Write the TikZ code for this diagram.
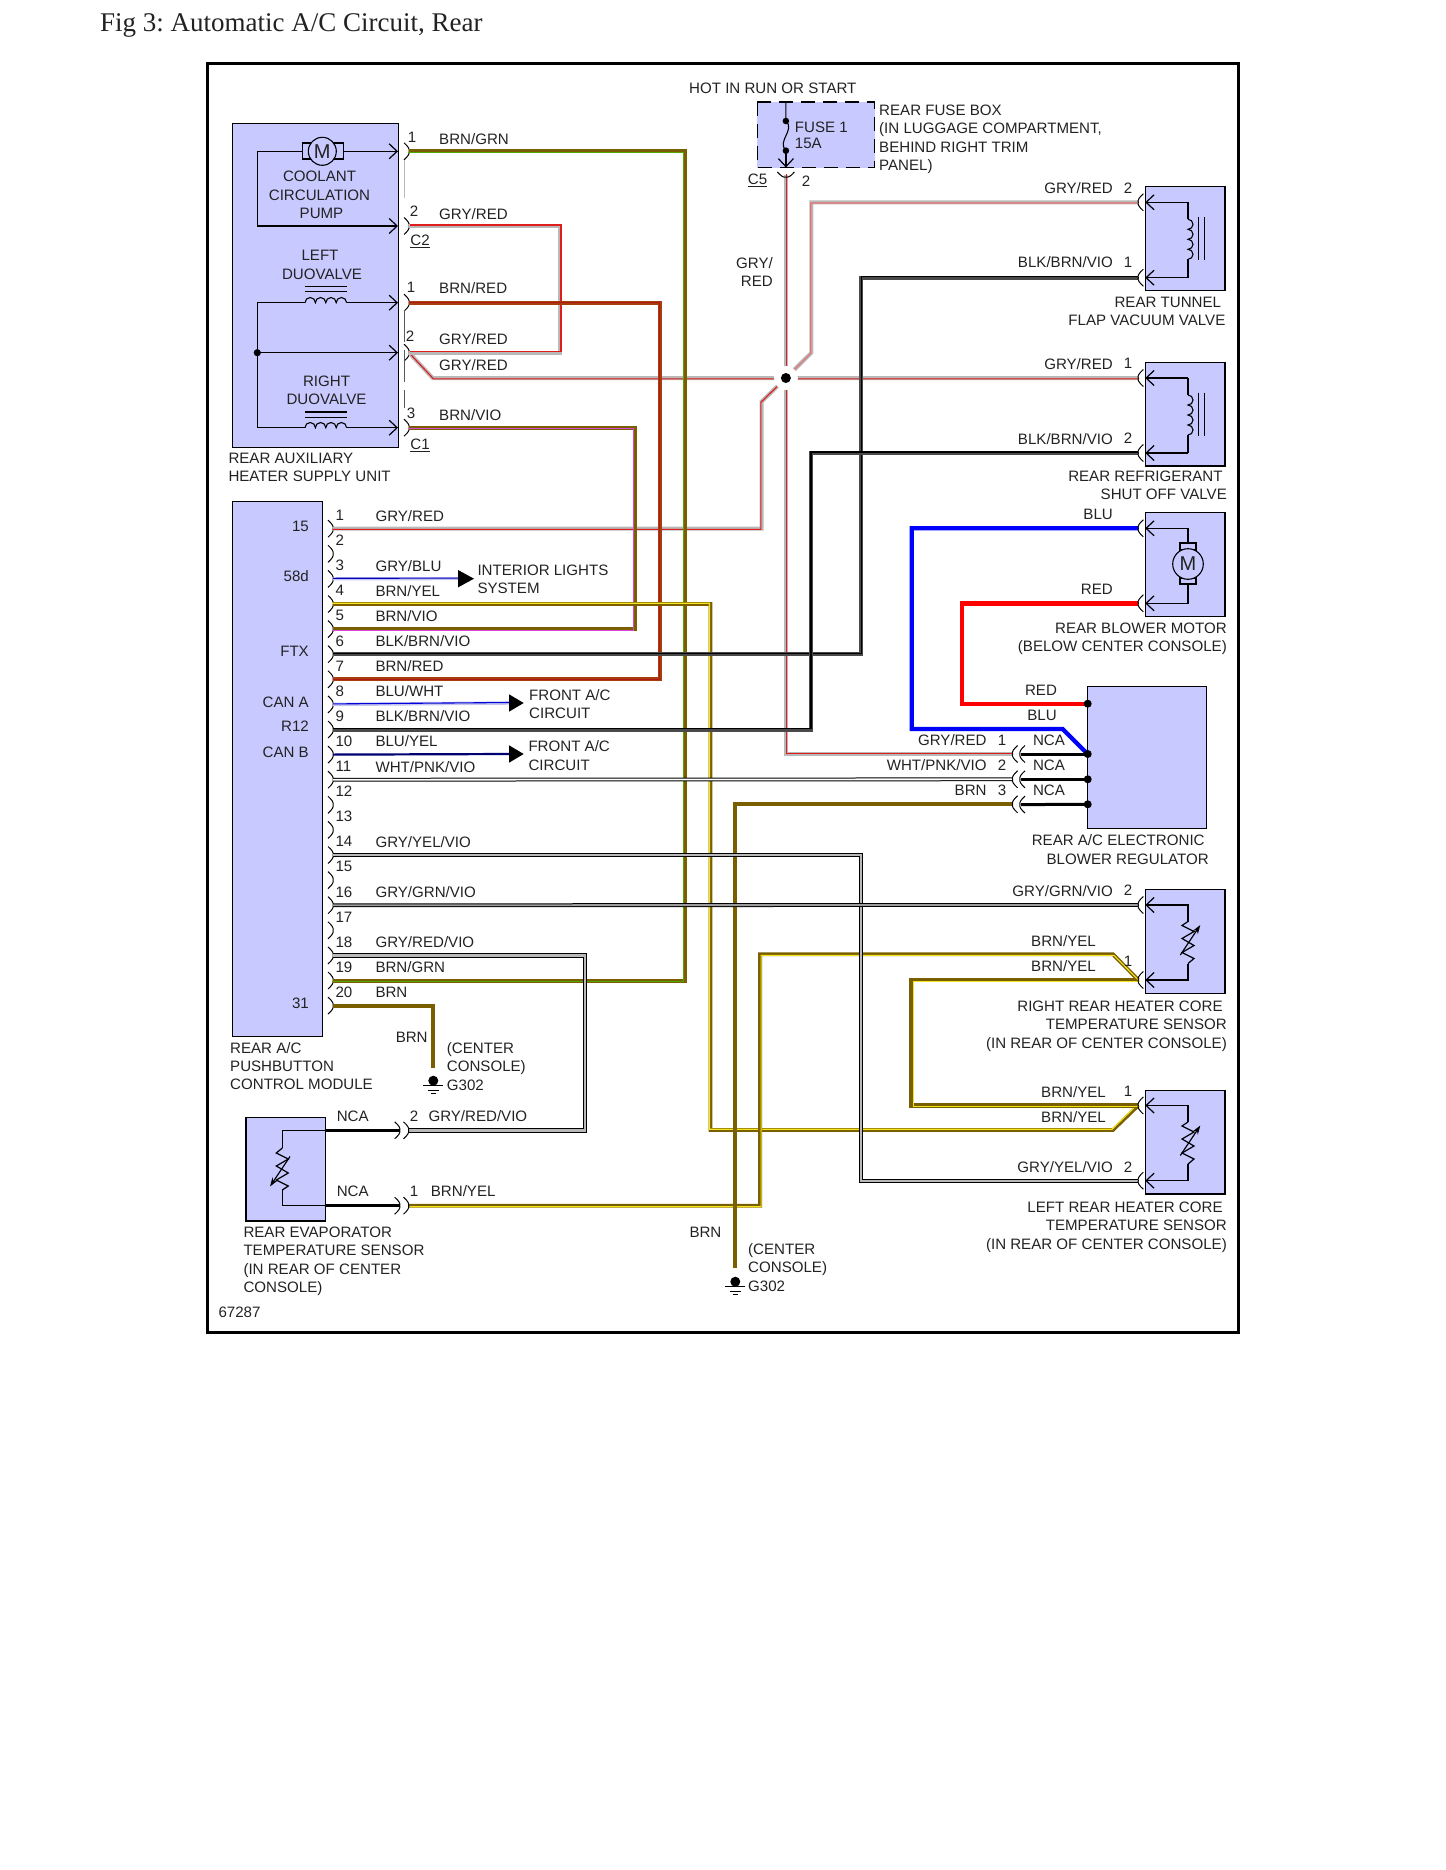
\documentclass[tikz,border=0pt]{standalone}
\usepackage{fontspec}
\setmainfont{Liberation Sans}
\newfontfamily\titlefont{Liberation Serif}
\usetikzlibrary{arrows.meta}
\frenchspacing

\definecolor{boxfill}{HTML}{C8CAFF}
\definecolor{ctext}{HTML}{222222}
\definecolor{cbrn}{HTML}{7A5F00}
\definecolor{cgrn}{HTML}{52A800}
\definecolor{cgry}{HTML}{B8B8B8}
\definecolor{cred}{HTML}{E01C1C}
\definecolor{cpale}{HTML}{E87070}
\definecolor{crust}{HTML}{A5400A}
\definecolor{cvio}{HTML}{D848D8}
\definecolor{cyel}{HTML}{F4E41C}
\definecolor{cdrk}{HTML}{4A4A4A}
\definecolor{clav}{HTML}{C4C4EE}

\tikzset{
  lbl/.style={font=\fontsize{15.1}{18.5}\selectfont, text=ctext, inner sep=0pt, text height=10.6pt, text depth=0pt},
  lbll/.style={lbl, anchor=west},
  lblr/.style={lbl, anchor=east},
  lblc/.style={lbl, anchor=center},
  blockl/.style={font=\fontsize{15.1}{18.5}\selectfont, text=ctext, inner sep=0pt, align=left, anchor=north west},
  blockr/.style={font=\fontsize{15.1}{18.5}\selectfont, text=ctext, inner sep=0pt, align=right, anchor=north east},
  blockc/.style={font=\fontsize{15.1}{18.5}\selectfont, text=ctext, inner sep=0pt, align=center, anchor=north},
  conn/.style={font=\fontsize{15.1}{18.5}\selectfont, text=ctext, inner sep=0pt, anchor=center},
  unit/.style={draw=black, fill=boxfill, line width=1.2pt},
  wire/.style n args={4}{line width=4pt, draw=#1, postaction={draw=#2, line width=1.1pt, transform canvas={shift={(#3,#4)}}}},
  solo/.style={line width=4.2pt, draw=#1},
  twin/.style={draw=black, line width=1pt, double=#1, double distance=1.8pt},
  nca/.style={line width=3pt, draw=black},
  pin/.style={line width=1.2pt, -{Straight Barb[length=8pt,width=15pt]}},
  plugr/.pic={\draw[line width=1pt] (-5,-8.5) .. controls (-1,-5) and (1,-2) .. (0,0) .. controls (1,2) and (-1,5) .. (-5,8.5);},
  gnd/.pic={\fill (0,0) circle (5);
    \draw[line width=1.2pt] (-10,5) -- (10,5) (-5.5,9.5) -- (5.5,9.5) (-2.5,13) -- (2.5,13);},
  humps/.pic={\draw[line width=1.1pt] (0,0) arc (180:360:5.2) arc (180:360:5.2) arc (180:360:5.2) arc (180:360:5.2);},
  vcoil/.pic={\draw[line width=1.1pt] (0,0) arc (-90:90:5) arc (-90:90:5) arc (-90:90:5) arc (-90:90:5);},
  resist/.pic={\draw[line width=1.2pt] (0,-21) -- (-6,-17) -- (6,-11) -- (-6,-4) -- (6,3) -- (-6,10) -- (6,16) -- (0,21);
    \draw[line width=1.2pt, -{Stealth[length=9pt,width=6pt]}] (-7.7,12.5) -- (12.3,-17.5);},
}

\begin{document}
\begin{tikzpicture}[x=1pt,y=-1pt]
\useasboundingbox (0,0) rectangle (1445,1870);
\node[font=\titlefont\fontsize{27}{27}\selectfont, text=ctext, inner sep=0pt, anchor=west] (title) at (100,25) {Fig 3: Automatic A/C Circuit, Rear};
\draw[line width=3pt] (207,64) rectangle (1238,1332);

% unit boxes
\draw[unit] (232.3,123.3) rectangle (398.7,447.3);
\draw[unit] (232.3,501.7) rectangle (322.7,1036.3);
\draw[unit] (245.7,1117.3) rectangle (325.7,1221);
\draw[unit] (1145.2,186.7) rectangle (1225,290.3);
\draw[unit] (1145.2,362.7) rectangle (1225,466);
\draw[unit] (1145.2,512.7) rectangle (1225,616.3);
\draw[unit] (1087.7,686.7) rectangle (1206.5,828.7);
\draw[unit] (1145.2,889.3) rectangle (1225,993.3);
\draw[unit] (1145.2,1090.7) rectangle (1225,1194);
\draw[fill=boxfill, line width=1.6pt, dash pattern=on 14pt off 8pt] (757.3,102) rectangle (874.6,167.7);

% pins of the control module
\foreach \n [evaluate=\n as \py using 528.7+(\n-1)*25.1] in {1,...,20} {
  \coordinate (p\n) at (333,\py);
  \pic at (p\n) {plugr};
  \node[lbll] (pnum\n) at (335.3,\py-13.5) {\n};
}
\foreach \n/\txt [evaluate=\n as \py using 528.7+(\n-1)*25.1] in {1/{GRY/RED},3/{GRY/BLU},4/{BRN/YEL},5/{BRN/VIO},6/{BLK/BRN/VIO},7/{BRN/RED},8/{BLU/WHT},9/{BLK/BRN/VIO},10/{BLU/YEL},11/{WHT/PNK/VIO},14/{GRY/YEL/VIO},16/{GRY/GRN/VIO},18/{GRY/RED/VIO},19/{BRN/GRN},20/{BRN}}
  \node[lbll] (pcol\n) at (375.3,\py-13) {\txt};
\foreach \y/\t/\nm in {526/15/a,576/58d/b,651/FTX/c,702/CAN A/d,726/R12/e,752/CAN B/f,1003/31/g}
  \node[lblr] (ctl\nm) at (309,\y) {\t};

% pins of the heater unit
\coordinate (h1) at (409,151.3);
\coordinate (h2) at (409,226);
\coordinate (h3) at (409,302.7);
\coordinate (h4) at (409,352.7);
\coordinate (h5) at (409,427.7);
\foreach \n in {1,...,5} \pic at (h\n) {plugr};
\draw[cgry, line width=1.2pt] (404.3,160) -- (404.3,198);
\draw[black!65, line width=1pt, dash pattern=on 32pt off 8pt] (404.3,310) -- (404.3,408);

% wire columns and end points
\coordinate (cola) at (684.5,0);
\coordinate (colb) at (560,0);
\coordinate (colc) at (659.8,0);
\coordinate (cold) at (634.8,0);
\coordinate (cole) at (710.5,0);
\coordinate (colf) at (861.3,0);
\coordinate (colg) at (811,0);
\coordinate (colh) at (585,0);
\coordinate (coli) at (911.7,0);
\coordinate (colj) at (962.2,0);
\coordinate (colk) at (735.3,0);
\coordinate (coll) at (760.1,0);
\coordinate (colm) at (433.3,0);
\coordinate (hub) at (785.9,378);
\coordinate (tun2) at (1138.3,202.3);
\coordinate (tun1) at (1138.3,277.7);
\coordinate (ref1) at (1138.3,378);
\coordinate (ref2) at (1138.3,453);
\coordinate (mot1) at (1138.3,528.3);
\coordinate (mot2) at (1138.3,603.3);
\coordinate (rrs2) at (1138.3,905);
\coordinate (rrs1) at (1138.3,980);
\coordinate (lrs1) at (1138.3,1105.5);
\coordinate (lrs2) at (1138.3,1180.7);
\coordinate (reg0) at (1087.7,703.7);
\coordinate (reg1) at (1087.7,754);
\coordinate (reg2) at (1087.7,779.3);
\coordinate (reg3) at (1087.7,804.3);
\coordinate (nca1) at (1012.6,754);
\coordinate (nca2) at (1012.6,779.3);
\coordinate (nca3) at (1012.6,804.3);
\coordinate (ev2) at (408.5,1130.3);
\coordinate (ev1) at (408.5,1205.7);
\coordinate (fuse) at (785.9,175);
\coordinate (gnda) at (433.3,1068);
\coordinate (gndb) at (735.3,1268);
\coordinate (inta) at (460,578.7);
\coordinate (acaa) at (511,703);
\coordinate (acab) at (511,754);

% gray/red feed and its branches
\draw[wire={cgry}{cred}{0.8}{0.9}] (h4) -- (432.7,378) -- (hub) -- (ref1);
\draw[wire={cgry}{cred}{1}{-1}] (h2) -- (h2 -| colb) -- (h4 -| colb) -- (h4);
\draw[wire={cgry}{cred}{0.8}{-0.7}] (fuse) -- (hub) -- (nca1 -| hub) -- (nca1);
\draw[wire={cgry}{cpale}{-0.7}{0.7}] (tun2) -- (811.4,202.3) -- (811.4,352.7) -- (hub);
\draw[wire={cgry}{cred}{-0.7}{0.7}] (p1) -- (761.5,528.7) -- (761.5,401.7) -- (hub);
\fill[white] (hub) circle (12);
\fill (hub) circle (5);

% brown wires
\draw[wire={cbrn}{cgrn}{-1}{1}] (h1) -- (h1 -| cola) -- (p19 -| cola) -- (p19);
\draw[wire={crust}{cred!80!black}{0}{0}, line width=4.2pt] (h3) -- (h3 -| colc) -- (p7 -| colc) -- (p7);
\draw[wire={cbrn}{cvio}{-1}{1}] (h5) -- (h5 -| cold) -- (p5 -| cold) -- (p5);
\draw[wire={cbrn}{cyel}{-1}{-0.8}, line width=3.6pt] (p4) -- (p4 -| cole) -- (710.5,1130) -- (1113,1130) -- (lrs1);
\draw[wire={cbrn}{cyel}{1.4}{1.2}, line width=4.6pt] (rrs1) -- (rrs1 -| coli) -- (lrs1 -| coli) -- (lrs1);
\draw[wire={cbrn}{cyel}{1}{1}, line width=3.8pt] (ev1) -- (ev1 -| coll) -- (760.1,954.3) -- (1113,954.3) -- (rrs1);
\draw[solo=cbrn] (p20) -- (p20 -| colm) -- (gnda);
\draw[solo=cbrn] (nca3) -- (nca3 -| colk) -- (gndb);

% black and gray wires
\draw[wire={cdrk}{black}{0}{-1}] (p6) -- (p6 -| colf) -- (tun1 -| colf) -- (tun1);
\draw[wire={cdrk}{black}{0}{-1}] (p9) -- (p9 -| colg) -- (ref2 -| colg) -- (ref2);
\draw[twin=white] (p11) -- (nca2);
\draw[twin=cgry] (p14) -- (p14 -| colf) -- (lrs2 -| colf) -- (lrs2);
\draw[twin=cgry!85!black] (p16) -- (rrs2);
\draw[twin=cgry, double distance=2.4pt] (p18) -- (p18 -| colh) -- (ev2 -| colh) -- (ev2);

% blue and red wires
\draw[solo=blue] (mot1) -- (mot1 -| coli) -- (911.7,729) -- (1062.6,729) -- (reg1);
\draw[solo=red, line width=4.4pt] (mot2) -- (mot2 -| colj) -- (reg0 -| colj) -- (reg0);
\draw[wire={clav}{blue!75!black}{0}{-0.6}, line width=3pt] (p3) -- (inta);
\draw[wire={clav}{blue!85!black}{0}{-0.5}, line width=3.4pt] (p8) -- (acaa);
\draw[line width=2.2pt, draw=blue!45!black] (p10) -- (acab);
\fill (458,570) -- (474,578.7) -- (458,587.4) -- cycle;
\fill (509,694.3) -- (523.7,703) -- (509,711.7) -- cycle;
\fill (509,745.3) -- (523.7,754) -- (509,762.7) -- cycle;

% regulator side
\foreach \n in {1,2,3} {
  \draw[nca] (1021,728.7+25.3*\n) -- (reg\n);
  \pic[rotate=180] at (nca\n) {plugr};
  \pic[rotate=180] at (1020,728.7+25.3*\n) {plugr};
}
\foreach \n in {0,1,2,3} \fill (reg\n) circle (4);
\foreach \n in {tun2,tun1,ref1,ref2,mot1,mot2,rrs2,rrs1,lrs1,lrs2} \pic[rotate=180] at (\n) {plugr};

% heater unit inside
\draw[line width=1.1pt] (302.7,151.3) -| (257.3,226);
\draw[pin] (257.3,226) -- (398,226);
\draw[pin] (343.3,151.3) -- (398,151.3);
\draw[line width=1.3pt, fill=boxfill] (302.7,143) rectangle (343.3,159);
\draw[line width=1.1pt, fill=boxfill] (322.3,151.3) circle (14);
\node[font=\fontsize{20}{20}\selectfont, text=ctext, inner sep=0pt] (pumpm) at (322.3,151.3) {M};
\draw[line width=1.1pt] (257.3,427.7) -- (257.3,302.7) -- (305,302.7);
\pic at (305,302.7) {humps};
\draw[pin] (346.6,302.7) -- (398,302.7);
\draw[pin] (257.3,352.7) -- (398,352.7);
\fill (257.3,352.7) circle (3.6);
\draw[line width=1.1pt] (305,286.7) -- (346.6,286.7) (305,291.7) -- (346.6,291.7);
\draw[line width=1.1pt] (257.3,427.7) -- (305,427.7);
\pic at (305,427.7) {humps};
\draw[pin] (346.6,427.7) -- (398,427.7);
\draw[line width=2pt] (305,412) -- (346.6,412);
\draw[line width=1.1pt] (305,417.7) -- (346.6,417.7);

% vacuum valves inside
\foreach \nm/\a/\b in {t/202.3/277.7, r/378/453} {
  \draw[pin] (1188,\a) -- (1145.2,\a);
  \draw[pin] (1188,\b) -- (1145.2,\b);
  \draw[line width=1.1pt] (1188,\a) -- (1188,\a+17);
  \draw[line width=1.1pt] (1188,\a+57) -- (1188,\b);
  \pic at (1188,\a+17) {vcoil};
  \draw[line width=0.9pt] (1198.6,\a+14.5) -- (1198.6,\a+58) (1204.8,\a+14.5) -- (1204.8,\a+58);
}

% blower motor inside
\draw[pin] (1188,543) |- (1145.2,528.3);
\draw[pin] (1188,584) |- (1145.2,603.3);
\draw[line width=1.1pt] (1180,543) rectangle (1196,550);
\draw[line width=1.1pt] (1180,578) rectangle (1196,584);
\draw[line width=1.1pt, fill=boxfill] (1188,564) circle (15.3);
\node[font=\fontsize{20}{20}\selectfont, text=ctext, inner sep=0pt] (blowm) at (1188,564) {M};

% temperature sensors inside
\foreach \a/\b/\c in {905/980/942.5, 1105.5/1180.7/1143} {
  \draw[pin] (1188,\c-21) -- (1188,\a) -- (1145.2,\a);
  \draw[pin] (1188,\c+21) -- (1188,\b) -- (1145.2,\b);
  \pic at (1188,\c) {resist};
}
\draw[line width=1.1pt] (325.7,1130.3) -- (282.3,1130.3) -- (282.3,1148);
\draw[line width=1.1pt] (282.3,1190) -- (282.3,1205.7) -- (325.7,1205.7);
\pic[rotate=180] at (282.3,1169) {resist};
\draw[nca] (325.7,1130.3) -- (399.5,1130.3);
\draw[nca] (325.7,1205.7) -- (399.5,1205.7);
\pic at (ev2) {plugr};
\pic at (ev1) {plugr};
\pic at (399.7,1130.3) {plugr};
\pic at (399.7,1205.7) {plugr};
\draw[line width=2pt] (245.7,1117.3) -- (245.7,1221);

% fuse
\draw[line width=1.1pt] (785.9,102) -- (785.9,121) .. controls (795.5,130) and (776.5,141) .. (785.9,150.7);
\draw[pin] (785.9,150.7) -- (785.9,167.5);
\fill (785.9,121) circle (3.3);
\fill (785.9,150.7) circle (3.3);
\pic[rotate=-90] at (785.9,177) {plugr};

% grounds
\pic at (433.3,1080.7) {gnd};
\pic at (735.3,1281.7) {gnd};

% heater unit labels
\node[conn] (hn1) at (412,137) {1};
\node[conn] (hn2) at (414,211.5) {2};
\node[conn] (hn3) at (411,287) {1};
\node[conn] (hn4) at (410,336) {2};
\node[conn] (hn5) at (411,413) {3};
\node[conn] (cc2) at (420,241) {\underline{C2}};
\node[conn] (cc1) at (420,445) {\underline{C1}};
\node[lbll] (hw1) at (439,139) {BRN/GRN};
\node[lbll] (hw2) at (439,214.5) {GRY/RED};
\node[lbll] (hw3) at (439,288.7) {BRN/RED};
\node[lbll] (hw4) at (439,338.7) {GRY/RED};
\node[lbll] (hw5) at (439,364.7) {GRY/RED};
\node[lbll] (hw6) at (439,414.7) {BRN/VIO};
\node[blockc] (tpump) at (319.5,171) {COOLANT\\CIRCULATION\\\hspace*{4pt}PUMP};
\node[blockc] (tleft) at (320,250.3) {LEFT\\\hspace*{4pt}DUOVALVE};
\node[blockc] (tright) at (326.5,375.3) {RIGHT\\DUOVALVE};
\node[blockl] (theat) at (228.3,452.8) {REAR AUXILIARY\\HEATER SUPPLY UNIT};

% fuse labels
\node[lbll] (thot) at (689,88.5) {HOT IN RUN OR START};
\node[blockl] (tfuse) at (794.7,121.6) {FUSE 1\\[-2.2pt]15A};
\node[blockl] (tbox) at (879,104.3) {REAR FUSE BOX\\(IN LUGGAGE COMPARTMENT,\\BEHIND RIGHT TRIM\\PANEL)};
\node[conn] (cc5) at (757.5,180) {\underline{C5}};
\node[conn] (n5) at (806,181) {2};
\node[blockr] (tgr) at (773,257.3) {GRY/\\RED};

% right side labels
\node[lblr] (a1) at (1113,188) {GRY/RED};
\node[conn] (a1n) at (1128,188) {2};
\node[lblr] (a2) at (1113,262.7) {BLK/BRN/VIO};
\node[conn] (a2n) at (1128,262.7) {1};
\node[blockr] (ttun) at (1225.5,296.6) {REAR TUNNEL~~\\FLAP VACUUM VALVE};
\node[lblr] (b1) at (1113,364) {GRY/RED};
\node[conn] (b1n) at (1128,363) {1};
\node[lblr] (b2) at (1113,438.7) {BLK/BRN/VIO};
\node[conn] (b2n) at (1128,438.7) {2};
\node[blockr] (tref) at (1227,470.6) {REAR REFRIGERANT~~\\SHUT OFF VALVE};
\node[lblr] (c1) at (1113,514) {BLU};
\node[lblr] (c2) at (1113,588.7) {RED};
\node[blockr] (tmot) at (1227,622.3) {REAR BLOWER MOTOR\\(BELOW CENTER CONSOLE)};
\node[lblc] (d0) at (1041,690) {RED};
\node[lblc] (d1) at (1042,715) {BLU};
\node[lblr] (d2) at (986.8,740) {GRY/RED};
\node[conn] (d2n) at (1002,740) {1};
\node[lblr] (d3) at (986.8,765) {WHT/PNK/VIO};
\node[conn] (d3n) at (1002,765) {2};
\node[lblr] (d4) at (986.8,790) {BRN};
\node[conn] (d4n) at (1002,790) {3};
\foreach \y/\nm in {740/a,765/b,790/c} \node[lblc] (nc\nm) at (1049,\y) {NCA};
\node[blockr] (treg) at (1209,834.6) {REAR A/C ELECTRONIC~~\\BLOWER REGULATOR};
\node[lblr] (e1) at (1113,890.7) {GRY/GRN/VIO};
\node[conn] (e1n) at (1128,890.7) {2};
\node[lblr] (e2) at (1096,941) {BRN/YEL};
\node[lblr] (e3) at (1096,965.7) {BRN/YEL};
\node[conn] (e3n) at (1128,961) {1};
\node[blockr] (trrs) at (1227,1000.3) {RIGHT REAR HEATER CORE~~\\TEMPERATURE SENSOR\\(IN REAR OF CENTER CONSOLE)};
\node[lblr] (f1) at (1106,1092) {BRN/YEL};
\node[conn] (f1n) at (1128,1091) {1};
\node[lblr] (f2) at (1106,1117) {BRN/YEL};
\node[lblr] (f3) at (1113,1167) {GRY/YEL/VIO};
\node[conn] (f3n) at (1128,1167) {2};
\node[blockr] (tlrs) at (1227,1201.6) {LEFT REAR HEATER CORE~~\\TEMPERATURE SENSOR\\(IN REAR OF CENTER CONSOLE)};

% signal output labels
\node[blockl] (tint) at (477.3,564.6) {INTERIOR LIGHTS\\SYSTEM};
\node[blockl] (tfra) at (529,689.3) {FRONT A/C\\CIRCUIT};
\node[blockl] (tfrb) at (528.3,740.6) {FRONT A/C\\CIRCUIT};

% lower left labels
\node[blockl] (tctl) at (230,1042.2) {REAR A/C\\[-0.5pt]PUSHBUTTON\\[-0.5pt]CONTROL MODULE};
\node[lblc] (g1) at (411.7,1036.7) {BRN};
\node[blockl] (g2) at (446.7,1042.6) {(CENTER\\[-0.5pt]CONSOLE)};
\node[lbll] (g3) at (446.7,1084.7) {G302};
\node[lblc] (k1) at (352.7,1116) {NCA};
\node[lblc] (k2) at (352.7,1191) {NCA};
\node[conn] (k1n) at (414,1116) {2};
\node[conn] (k2n) at (414,1191) {1};
\node[lbll] (k3) at (428.3,1116) {GRY/RED/VIO};
\node[lbll] (k4) at (430.7,1191) {BRN/YEL};
\node[blockl] (tevap) at (243.3,1226.6) {REAR EVAPORATOR\\TEMPERATURE SENSOR\\(IN REAR OF CENTER\\CONSOLE)};
\node[lbll] (tnum) at (218.3,1311.7) {67287};
\node[lbll] (h1b) at (689.3,1232) {BRN};
\node[blockl] (h2b) at (748,1243.6) {(CENTER\\[-0.5pt]CONSOLE)};
\node[lbll] (h3b) at (748,1286) {G302};
\end{tikzpicture}
\end{document}
